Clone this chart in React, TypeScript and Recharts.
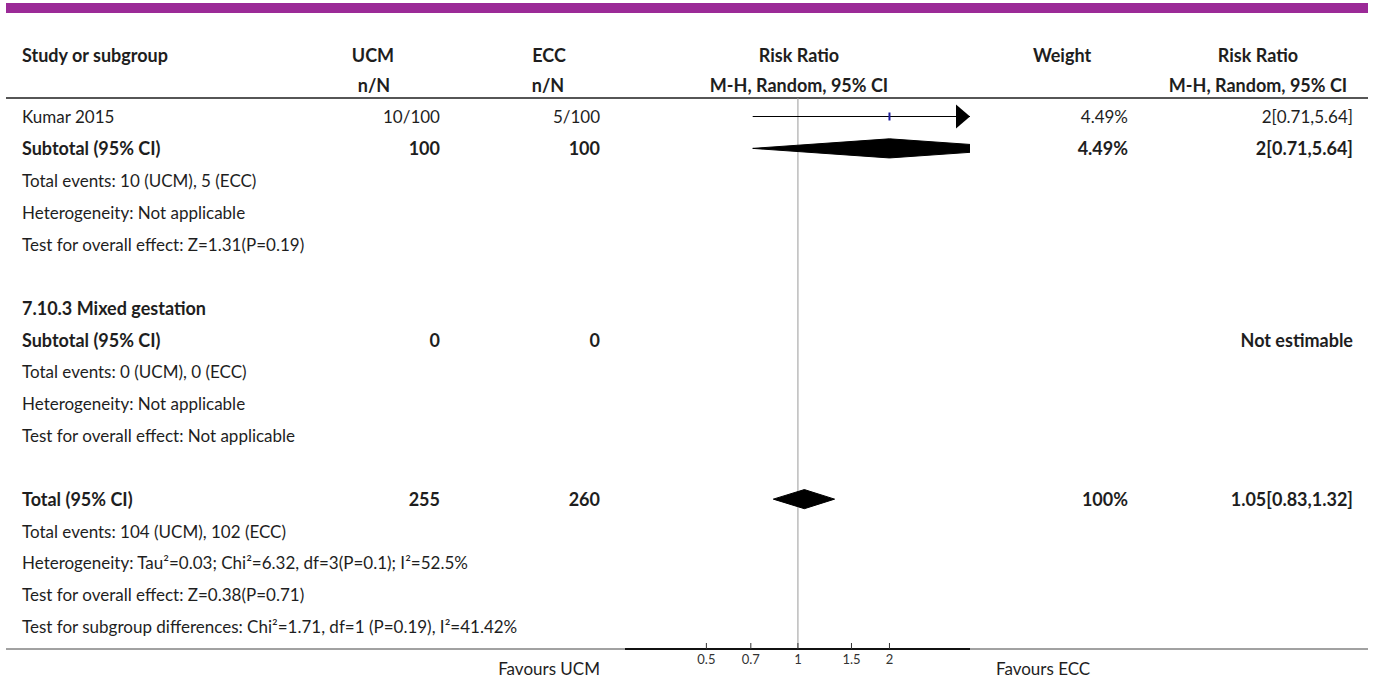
import React from 'react';
import { ComposedChart, Scatter, XAxis, YAxis, ReferenceLine } from 'recharts';

// one entry per table row, top to bottom
const rowText = [
  'Kumar 2015',
  'Subtotal (95% CI)',
  'Total events: 10 (UCM), 5 (ECC)',
  'Heterogeneity: Not applicable',
  'Test for overall effect: Z=1.31(P=0.19)',
  '',
  '7.10.3 Mixed gestation',
  'Subtotal (95% CI)',
  'Total events: 0 (UCM), 0 (ECC)',
  'Heterogeneity: Not applicable',
  'Test for overall effect: Not applicable',
  '',
  'Total (95% CI)',
  'Total events: 104 (UCM), 102 (ECC)',
  'Heterogeneity: Tau²=0.03; Chi²=6.32, df=3(P=0.1); I²=52.5%',
  'Test for overall effect: Z=0.38(P=0.71)',
  'Test for subgroup differences: Chi²=1.71, df=1 (P=0.19), I²=41.42%',
];
const boldRows = [1, 6, 7, 12];
const ucmText = ['10/100', '100', '', '', '', '', '', '0', '', '', '', '', '255', '', '', '', ''];
const eccText = ['5/100', '100', '', '', '', '', '', '0', '', '', '', '', '260', '', '', '', ''];
const weightText = ['4.49%', '4.49%', '', '', '', '', '', '', '', '', '', '', '100%', '', '', '', ''];
const effectText = ['2[0.71,5.64]', '2[0.71,5.64]', '', '', '', '', '', 'Not estimable', '', '', '', '', '1.05[0.83,1.32]', '', '', '', ''];

// individual studies
const studyRows = [0];
const studyEst = [2];
const studyLow = [0.71];
const studyHigh = [5.64];

// pooled estimates (diamonds)
const pooledRows = [1, 12];
const pooledEst = [2, 1.05];
const pooledLow = [0.71, 0.83];
const pooledHigh = [5.64, 1.32];

const axisTicks = [0.5, 0.7, 1, 1.5, 2];

const W = 1375;
const H = 680;
const PLOT_L = 625;
const PLOT_R = 970;
const PLOT_T = 98;
const AXIS_Y = 649;
const X_DOMAIN: [number, number] = [0.27, 3.68];
const ROW_DOMAIN: [number, number] = [-0.58, 16.7];
const DIAMOND_H = 0.3;
const FONT = 'Lato, "Noto Sans", sans-serif';
const INK = '#1e1e1e';
const FS = 17;
const FS_BOLD = 18;

const textRows = rowText.map((_, i) => ({ pos: 0.5, row: i }));

const RowText = (props: any) => {
  const { cy, payload } = props;
  const i = payload.row;
  const bold = boldRows.includes(i);
  return (
    <g fontFamily={FONT} fontSize={bold ? FS_BOLD : FS} fill={INK} fontWeight={bold ? 700 : 400}>
      <text x={22} y={cy} dominantBaseline="central">{rowText[i]}</text>
      <text x={440} y={cy} dominantBaseline="central" textAnchor="end">{ucmText[i]}</text>
      <text x={600} y={cy} dominantBaseline="central" textAnchor="end">{eccText[i]}</text>
      <text x={1128} y={cy} dominantBaseline="central" textAnchor="end">{weightText[i]}</text>
      <text x={1353} y={cy} dominantBaseline="central" textAnchor="end">{effectText[i]}</text>
    </g>
  );
};

const AxisTick = (props: any) => {
  const { x, y, payload } = props;
  return (
    <g>
      <line x1={x} x2={x} y1={y} y2={y - 6} stroke="#333" />
      <text x={x} y={y + 15} textAnchor="middle" fontFamily={FONT} fontSize={13} fill="#333">
        {payload.value}
      </text>
    </g>
  );
};

const Empty = () => <g />;

const Arrow = (props: any) => {
  const { cx, cy } = props;
  return <polygon points={`${cx},${cy} ${cx - 14},${cy - 12} ${cx - 14},${cy + 12}`} fill="#000" />;
};

const Box = (props: any) => {
  const { cx, cy } = props;
  return <rect x={cx - 1} y={cy - 4} width={2} height={8} fill="#1c1c9c" />;
};

export default function App() {
  return (
    <div style={{ position: 'relative', width: W, height: H, background: '#fff' }}>
      <style>{'body{margin:0}'}</style>
      <svg width={W} height={H} style={{ position: 'absolute', left: 0, top: 0 }}>
        <rect x={6} y={3} width={1362} height={10} fill="#9b2a97" />
        <g fontFamily={FONT} fontSize={FS_BOLD} fontWeight={700} fill={INK}>
          <text x={22} y={55} dominantBaseline="central">Study or subgroup</text>
          <text x={373} y={55} dominantBaseline="central" textAnchor="middle">UCM</text>
          <text x={374} y={85} dominantBaseline="central" textAnchor="middle">n/N</text>
          <text x={549} y={55} dominantBaseline="central" textAnchor="middle">ECC</text>
          <text x={548} y={85} dominantBaseline="central" textAnchor="middle">n/N</text>
          <text x={799} y={55} dominantBaseline="central" textAnchor="middle">Risk Ratio</text>
          <text x={799} y={85} dominantBaseline="central" textAnchor="middle">M-H, Random, 95% CI</text>
          <text x={1062} y={55} dominantBaseline="central" textAnchor="middle">Weight</text>
          <text x={1258} y={55} dominantBaseline="central" textAnchor="middle">Risk Ratio</text>
          <text x={1258} y={85} dominantBaseline="central" textAnchor="middle">M-H, Random, 95% CI</text>
        </g>
        <line x1={6} x2={1368} y1={PLOT_T} y2={PLOT_T} stroke={INK} strokeWidth={1.5} />
        <line x1={6} x2={1368} y1={AXIS_Y} y2={AXIS_Y} stroke="#444" strokeWidth={1} />
        <g fontFamily={FONT} fontSize={FS} fill={INK}>
          <text x={600} y={668} dominantBaseline="central" textAnchor="end">Favours UCM</text>
          <text x={996} y={668} dominantBaseline="central">Favours ECC</text>
        </g>
      </svg>
      <div style={{ position: 'absolute', left: 0, top: 0 }}>
        <ComposedChart
          width={W}
          height={H}
          margin={{ top: PLOT_T, right: W - PLOT_R, bottom: H - AXIS_Y - 20, left: PLOT_L }}
        >
          <XAxis
            xAxisId="rr"
            type="number"
            dataKey="rr"
            scale="log"
            domain={X_DOMAIN}
            allowDataOverflow
            ticks={axisTicks}
            interval={0}
            height={20}
            tickSize={0}
            tickMargin={0}
            tick={<AxisTick />}
            axisLine={{ stroke: '#111', strokeWidth: 2 }}
            tickLine={false}
          />
          <XAxis xAxisId="txt" type="number" dataKey="pos" domain={[0, 1]} hide />
          <YAxis type="number" dataKey="row" domain={ROW_DOMAIN} reversed hide />
          <ReferenceLine xAxisId="rr" x={1} stroke="#9a9a9a" strokeWidth={1} />
          <Scatter
            xAxisId="txt"
            data={textRows}
            shape={<RowText />}
            isAnimationActive={false}
          />
          {studyRows.map((r, i) => (
            <Scatter
              key={'ci' + i}
              xAxisId="rr"
              data={[
                { rr: studyLow[i], row: r },
                { rr: studyHigh[i], row: r },
              ]}
              line={{ stroke: '#000', strokeWidth: 1.2 }}
              lineType="joint"
              shape={<Empty />}
              isAnimationActive={false}
            />
          ))}
          <Scatter
            xAxisId="rr"
            data={studyRows
              .map((r, i) => ({ rr: Math.min(studyHigh[i], X_DOMAIN[1]), row: r, over: studyHigh[i] > X_DOMAIN[1] }))
              .filter((d) => d.over)}
            shape={<Arrow />}
            isAnimationActive={false}
          />
          <Scatter
            xAxisId="rr"
            data={studyRows.map((r, i) => ({ rr: studyEst[i], row: r }))}
            shape={<Box />}
            isAnimationActive={false}
          />
          {pooledRows.map((r, i) => (
            <Scatter
              key={'dm' + i}
              xAxisId="rr"
              data={[
                { rr: pooledLow[i], row: r },
                { rr: pooledEst[i], row: r - DIAMOND_H },
                { rr: pooledHigh[i], row: r },
                { rr: pooledEst[i], row: r + DIAMOND_H },
                { rr: pooledLow[i], row: r },
              ]}
              line={{ stroke: '#000', strokeWidth: 1, fill: '#000' }}
              lineType="joint"
              shape={<Empty />}
              isAnimationActive={false}
            />
          ))}
        </ComposedChart>
      </div>
    </div>
  );
}
